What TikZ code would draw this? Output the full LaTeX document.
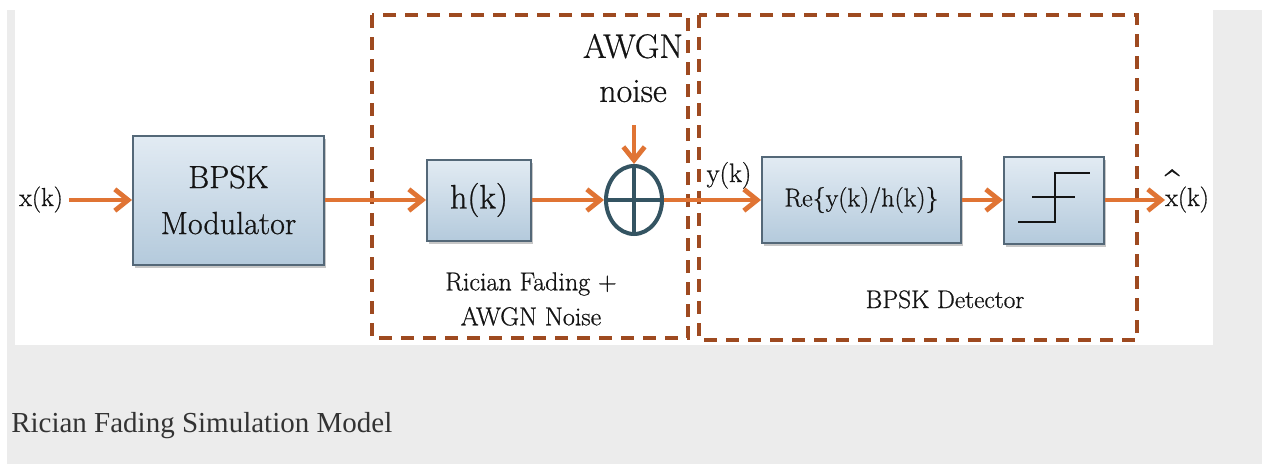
\documentclass[tikz,border=0pt]{standalone}
\usepackage{fontspec}
\newfontfamily\capfont{Liberation Serif}
\newfontfamily\diag{Latin Modern Roman}[FakeBold=0.7]
\usetikzlibrary{arrows.meta,shapes.geometric,shadows}
\newdimen\pxu \pxu=0.75pt
\definecolor{flow}{RGB}{224,116,52}
\definecolor{frame}{RGB}{158,74,32}
\definecolor{boxline}{RGB}{84,104,120}
\definecolor{boxtop}{RGB}{226,235,243}
\definecolor{boxbot}{RGB}{180,202,220}
\definecolor{sumc}{RGB}{52,84,98}
\definecolor{page}{RGB}{236,236,236}
\definecolor{ink}{RGB}{20,20,20}
\definecolor{capc}{RGB}{51,51,51}
\tikzset{
  block/.style={draw=boxline, line width=1.5pt, top color=boxtop, bottom color=boxbot,
    inner sep=0pt, align=center, text=ink,
    drop shadow={shadow xshift=1.5pt, shadow yshift=-2.5pt, fill=black, opacity=0.22}},
  sumnode/.style={ellipse, draw=sumc, line width=3pt, inner sep=0pt,
    minimum width=56\pxu, minimum height=68\pxu},
  flowarr/.style={draw=flow, line width=3.6pt, -{Straight Barb[length=10pt,width=16pt]}},
  dashframe/.style={draw=frame, line width=3.4pt, dash pattern=on 10pt off 6.5pt},
  lbl/.style={inner sep=0pt, text=ink}
}
\begin{document}
\begin{tikzpicture}[x=0.75pt,y=-0.75pt]
  % page and panel
  \fill[white] (0,0) rectangle (1262,464);
  \fill[page] (7,10) rectangle (1262,464);
  \fill[white] (15,10) rectangle (1213,345);
  \useasboundingbox (0,0) rectangle (1262,464);

  % grouping frames
  \draw[dashframe] (372,15) rectangle (688,338);
  \draw[dashframe] (699,15) rectangle (1137,340);

  % blocks
  \node[block, minimum width=191\pxu, minimum height=129\pxu,
        font=\diag\fontsize{24pt}{34.5pt}\selectfont] (bpsk) at (228.5,200) {BPSK\\Modulator};
  \node[block, minimum width=104\pxu, minimum height=81\pxu,
        font=\diag\fontsize{25.5pt}{30pt}\selectfont] (hk) at (479,200) {h(k)};
  \node[sumnode] (sum) at (634,200) {};
  \draw[sumc, line width=3pt] (sum.north) -- (sum.south) (sum.west) -- (sum.east);
  \node[block, minimum width=199\pxu, minimum height=86\pxu,
        font=\diag\fontsize{19.5pt}{24pt}\selectfont] (re) at (861.5,200) {Re\{y(k)/h(k)\}};
  \node[block, minimum width=100\pxu, minimum height=87\pxu] (thr) at (1054,200) {};
  % hard decision characteristic
  \draw[ink, line width=1.5pt] (1018,222) -- (1055,222) -- (1055,173) -- (1090,173);
  \draw[ink, line width=1.5pt] (1032,197) -- (1075,197);

  % labels
  \node[lbl, anchor=base west, font=\diag\fontsize{19.5pt}{24pt}\selectfont] (xk) at (19,206) {x(k)};
  \node[lbl, align=center, font=\diag\fontsize{25.5pt}{33pt}\selectfont] (awgn) at (633,68) {AWGN\\noise};
  \node[lbl, anchor=base, font=\diag\fontsize{20pt}{24pt}\selectfont] (yk) at (729,182) {y(k)};
  \node[lbl, anchor=base west, font=\diag\fontsize{19.5pt}{24pt}\selectfont] (xhat) at (1165,206)
    {\rlap{\makebox[0.528em]{\raisebox{0.3em}{\scalebox{1}[1.5]{\textasciicircum}}}}x(k)};
  \node[lbl, align=center, font=\diag\fontsize{19.5pt}{26.25pt}\selectfont] (chan) at (531,299)
    {Rician Fading +\\AWGN Noise};
  \node[lbl, anchor=base, font=\diag\fontsize{19pt}{24pt}\selectfont] (det) at (945,308) {BPSK Detector};
  \node[lbl, anchor=base west, text=capc, font=\capfont\fontsize{21.75pt}{26pt}\selectfont]
    (cap) at (11,432) {Rician Fading Simulation Model};

  % signal flow
  \draw[flowarr, shorten <=4.5pt] (xk.east |- bpsk.west) -- (bpsk.west);
  \draw[flowarr] (bpsk) -- (hk);
  \draw[flowarr] (hk) -- (sum);
  \draw[flowarr, shorten <=17pt] (awgn.south -| sum.north) -- (sum.north);
  \draw[flowarr] (sum) -- (re);
  \draw[flowarr] (re) -- (thr);
  \draw[flowarr] (thr.east) -- (thr.east -| xhat.west);
\end{tikzpicture}
\end{document}
